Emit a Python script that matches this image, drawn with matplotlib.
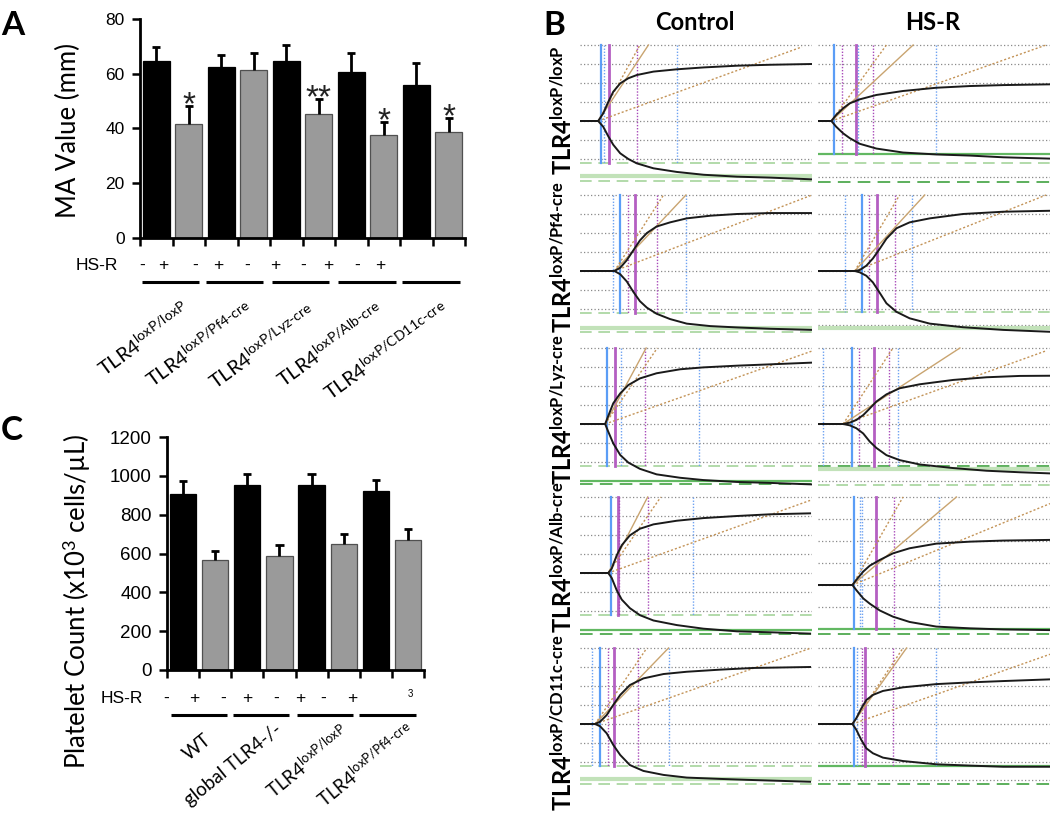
import matplotlib
matplotlib.use("Agg")
import matplotlib.pyplot as plt
from matplotlib.lines import Line2D

plt.rcParams['font.family'] = ['Lato', 'DejaVu Sans']
plt.rcParams['mathtext.fontset'] = 'custom'
plt.rcParams['mathtext.rm'] = 'Lato'
plt.rcParams['mathtext.it'] = 'Lato:italic'
plt.rcParams['mathtext.bf'] = 'Lato:bold'

# ---------------- Panel A data: MA value (mm) ----------------
a_groups = ["TLR4$^{\\mathrm{loxP/loxP}}$", "TLR4$^{\\mathrm{loxP/Pf4\u2010cre}}$",
            "TLR4$^{\\mathrm{loxP/Lyz\u2010cre}}$", "TLR4$^{\\mathrm{loxP/Alb\u2010cre}}$",
            "TLR4$^{\\mathrm{loxP/CD11c\u2010cre}}$"]
a_values = [64.5, 41.8, 62.4, 61.5, 64.5, 45.3, 60.8, 37.8, 55.9, 38.7]
a_errors = [5.2, 6.6, 4.6, 6.2, 5.9, 5.4, 6.7, 4.5, 7.9, 5.0]
a_stars = ["", "*", "", "", "", "**", "", "*", "", "*"]
a_hsr = ["-", "+", "-", "+", "-", "+", "-", "+", "-", "+"]
a_yticks = [0, 20, 40, 60, 80]

# ---------------- Panel C data: platelet count ----------------
c_groups = ["WT", "global TLR4-/-", "TLR4$^{\\mathrm{loxP/loxP}}$", "TLR4$^{\\mathrm{loxP/Pf4\u2010cre}}$"]
c_values = [908, 567, 951, 585, 951, 651, 922, 670]
c_errors = [64, 47, 57, 60, 59, 48, 59, 55]
c_hsr = ["-", "+", "-", "+", "-", "+", "-", "+"]
c_yticks = [0, 200, 400, 600, 800, 1000, 1200]

# ---------------- Panel B data: TEG tracings (time min, half amplitude mm) ----------------
b_cols = ["Control", "HS-R"]
b_rows = ["TLR4$^{\\mathbf{loxP/loxP}}$", "TLR4$^{\\mathbf{loxP/Pf4\u2010cre}}$",
          "TLR4$^{\\mathbf{loxP/Lyz\u2010cre}}$", "TLR4$^{\\mathbf{loxP/Alb\u2010cre}}$",
          "TLR4$^{\\mathbf{loxP/CD11c\u2010cre}}$"]

c1_t = [0, 4.7, 6.0, 7.3, 8.6, 10.4, 12.5, 14.7, 19.0, 25.0, 32.0, 40.6, 49.2, 60.0]
c1_up = [0, 0, 4.0, 10.0, 15.4, 19.8, 22.5, 24.2, 26.0, 27.2, 28.2, 29.1, 29.6, 30.0]
c1_lo = [0, 0, -3.0, -8.0, -12.5, -17.0, -20.0, -22.3, -24.9, -26.8, -28.3, -29.3, -29.8, -30.7]
c1_v = [(5.35, 'B'), (6.3, 'b'), (7.6, 'M'), (14.7, 'm'), (25.2, 'b')]
c1_vbot = -22.3
c1_tan = [(17.7, 40, '-'), (15.5, 40, ':'), (57.4, 39, ':')]
c1_h = [(40, 'g'), (30, 'g'), (20, 'g'), (10, 'g'), (0, 'g'), (-10, 'g'), (-20, 'g'),
        (-22.3, 'L'), (-28.8, 'W'), (-31.8, 'L')]

h1_t = [0, 3.45, 4.7, 6.5, 8.2, 10.8, 15.1, 22.0, 30.6, 39.3, 47.9, 60.0]
h1_up = [0, 0, 3.2, 6.7, 9.3, 11.4, 13.7, 15.8, 17.5, 18.4, 18.9, 19.3]
h1_lo = [0, 0, -3.0, -6.5, -9.0, -12.0, -14.5, -16.6, -17.6, -18.2, -19.1, -19.8]
h1_v = [(4.05, 'B'), (6.2, 'm'), (9.75, 'M'), (10.4, 'b'), (14.1, 'm'), (30.6, 'b')]
h1_vbot = -17.5
h1_tan = [(24.6, 40, '-'), (17.7, 40, ':'), (59.0, 40, ':')]
h1_h = [(40, 'g'), (30, 'g'), (20, 'g'), (10, 'g'), (0, 'g'), (-10, 'g'),
        (-17.5, 'S'), (-22.3, 'L'), (-29.6, 'g'), (-32.0, 'D')]

c2_t = [0, 8.9, 10.4, 12.1, 13.8, 15.5, 17.3, 19.8, 23.3, 27.6, 33.7, 40.6, 49.2, 60.0]
c2_up = [0, 0, 1.7, 5.7, 10.9, 16.1, 20.0, 23.4, 25.6, 27.7, 29.1, 30.0, 30.5, 30.5]
c2_lo = [0, 0, -1.7, -5.5, -11.0, -15.9, -19.3, -22.5, -25.3, -27.7, -29.0, -29.7, -30.4, -31.0]
c2_v = [(8.5, 'b'), (10.4, 'B'), (12.4, 'm'), (14.2, 'M'), (19.8, 'm'), (27.4, 'b')]
c2_vbot = -22.3
c2_tan = [(27.4, 40, '-'), (21.6, 40, ':'), (60.0, 40, ':')]
c2_h = [(40, 'g'), (30, 'g'), (20, 'g'), (10, 'g'), (0, 'g'), (-10, 'g'), (-20, 'g'),
        (-22.3, 'L'), (-30.0, 'W'), (-31.9, 'L')]

h2_t = [0, 9.5, 10.8, 12.5, 14.2, 16.0, 17.7, 20.3, 23.7, 28.9, 37.5, 47.9, 60.0]
h2_up = [0, 0, 0.5, 2.8, 6.6, 11.8, 17.0, 22.5, 25.6, 27.7, 30.0, 31.2, 31.7]
h2_lo = [0, 0, -0.7, -2.5, -6.0, -11.6, -17.0, -21.5, -24.9, -27.7, -29.6, -31.0, -32.0]
h2_v = [(7.0, 'b'), (11.4, 'B'), (13.2, 'm'), (15.2, 'M'), (19.9, 'm'), (24.4, 'b')]
h2_vbot = -21.5
h2_tan = [(27.6, 40, '-'), (21.1, 40, ':'), (59.0, 40, ':')]
h2_h = [(40, 'g'), (30, 'g'), (20, 'g'), (10, 'g'), (0, 'g'), (-10, 'g'), (-20, 'g'),
        (-21.5, 'L'), (-28.6, 'g'), (-30.2, 'W')]

c3_t = [0, 6.5, 7.3, 8.6, 10.4, 12.5, 15.5, 19.8, 25.9, 31.9, 40.6, 49.2, 60.0]
c3_up = [0, 0, 4.2, 10.9, 16.1, 20.5, 24.0, 26.7, 28.8, 29.8, 30.7, 31.4, 32.3]
c3_lo = [0, 0, -4.0, -10.2, -16.3, -20.3, -23.6, -26.5, -28.3, -29.5, -30.5, -31.0, -31.8]
c3_v = [(6.9, 'B'), (9.1, 'M'), (10.5, 'b'), (16.9, 'm'), (30.9, 'b')]
c3_vbot = -22.1
c3_tan = [(17.1, 40, '-'), (20.0, 40, ':'), (60.0, 38.4, ':')]
c3_h = [(40, 'g'), (30, 'g'), (20, 'g'), (10, 'g'), (0, 'g'), (-10, 'g'), (-20, 'g'),
        (-22.1, 'L'), (-30.0, 'S'), (-31.8, 'D')]

h3_t = [0, 6.5, 8.2, 9.9, 11.7, 13.4, 15.1, 17.7, 21.1, 26.3, 35.0, 43.6, 52.2, 60.0]
h3_up = [0, 0, 0.7, 2.1, 4.7, 8.2, 11.8, 15.6, 18.8, 20.9, 23.2, 24.6, 25.3, 25.4]
h3_lo = [0, 0, -0.7, -2.2, -5.0, -9.3, -12.6, -16.4, -19.0, -21.3, -23.2, -24.6, -25.4, -26.0]
h3_v = [(1.3, 'b'), (8.8, 'B'), (10.6, 'm'), (14.5, 'M'), (18.4, 'm'), (20.8, 'b')]
h3_vbot = -22.0
h3_tan = [(36.7, 40, '-'), (19.4, 40, ':'), (59.1, 38.6, ':')]
h3_h = [(40, 'g'), (30, 'g'), (20, 'g'), (10, 'g'), (0, 'g'), (-10, 'g'), (-20, 'g'),
        (-22.0, 'D'), (-23.9, 'W'), (-29.8, 'g'), (-32.0, 'L')]

c4_t = [0, 7.3, 8.2, 9.5, 10.8, 12.9, 15.5, 19.0, 25.0, 31.9, 40.6, 49.2, 59.5]
c4_up = [0, 0, 2.3, 9.3, 14.6, 19.8, 23.3, 25.6, 27.5, 28.9, 30.0, 30.9, 31.4]
c4_lo = [0, 0, -2.6, -9.1, -14.0, -18.5, -22.2, -25.0, -27.4, -29.3, -30.7, -31.2, -31.9]
c4_v = [(7.9, 'B'), (9.7, 'M'), (10.0, 'm'), (17.5, 'm'), (29.3, 'b')]
c4_vbot = -22.3
c4_tan = [(17.5, 40, '-'), (20.9, 40, ':'), (59.5, 38.2, ':')]
c4_h = [(40, 'g'), (30, 'g'), (20, 'g'), (10, 'g'), (0, 'g'), (-10, 'g'), (-20, 'g'),
        (-22.3, 'L'), (-29.8, 'S'), (-31.9, 'D')]

h4_t = [0, 8.9, 9.9, 11.7, 13.4, 16.0, 19.4, 23.7, 30.6, 39.3, 47.9, 60.0]
h4_up = [0, 0, 2.3, 6.1, 8.8, 11.4, 14.4, 16.7, 18.8, 19.7, 20.2, 20.5]
h4_lo = [0, 0, -2.3, -6.1, -8.5, -11.6, -14.4, -16.8, -18.9, -19.7, -20.2, -20.5]
h4_v = [(9.3, 'B'), (10.8, 'b'), (11.4, 'b'), (14.9, 'M'), (19.6, 'm'), (31.2, 'b')]
h4_vbot = -20.0
h4_tan = [(35.8, 40, '-'), (22.0, 40, ':'), (60.0, 37.0, ':')]
h4_h = [(40, 'g'), (30, 'g'), (20, 'g'), (10, 'g'), (0, 'g'), (-10, 'g'),
        (-20.0, 'S'), (-22.4, 'D')]

c5_t = [0, 3.9, 5.2, 6.9, 8.6, 10.4, 12.9, 16.4, 21.6, 27.6, 36.2, 44.9, 59.5]
c5_up = [0, 0, 1.2, 4.7, 10.0, 15.3, 20.5, 24.0, 26.3, 27.5, 28.6, 29.5, 30.0]
c5_lo = [0, 0, -1.2, -4.9, -11.0, -16.3, -21.6, -24.7, -26.8, -28.2, -28.9, -29.5, -30.4]
c5_v = [(3.0, 'b'), (5.2, 'B'), (7.3, 'm'), (8.9, 'M'), (14.9, 'm'), (23.0, 'b')]
c5_vbot = -21.9
c5_tan = [(22.9, 40, '-'), (17.3, 40, ':'), (59.5, 39.8, ':')]
c5_h = [(40, 'g'), (30, 'g'), (20, 'g'), (10, 'g'), (0, 'g'), (-10, 'g'), (-20, 'g'),
        (-21.9, 'L'), (-28.9, 'W'), (-31.7, 'L')]

h5_t = [0, 8.9, 9.9, 11.2, 12.5, 14.2, 16.8, 22.0, 30.6, 39.3, 47.9, 60.0]
h5_up = [0, 0, 3.0, 8.2, 12.6, 15.3, 17.4, 19.3, 21.0, 21.9, 22.6, 23.5]
h5_lo = [0, 0, -3.0, -8.4, -12.8, -15.4, -17.7, -19.5, -21.2, -21.9, -22.5, -22.5]
h5_v = [(9.2, 'B'), (10.1, 'b'), (11.4, 'm'), (12.1, 'M'), (19.4, 'm'), (30.6, 'b')]
h5_vbot = -21.9
h5_tan = [(22.9, 40, '-'), (22.0, 40, ':'), (60.0, 36.7, ':')]
h5_h = [(40, 'g'), (30, 'g'), (20, 'g'), (10, 'g'), (0, 'g'), (-10, 'g'), (-20, 'g'),
        (-21.9, 'S'), (-29.5, 'g'), (-31.7, 'D')]

# ---------------- layout ----------------
W, H, DPI = 1050, 814, 100
fig = plt.figure(figsize=(W / DPI, H / DPI), dpi=DPI)
fig.patch.set_facecolor('white')


def fx(x):
    return x / W


def fy(y):
    return 1 - y / H


def px_axes(x0, y0, x1, y1):
    return fig.add_axes([x0 / W, 1 - y1 / H, (x1 - x0) / W, (y1 - y0) / H])


def ftext(x, y, s, **kw):
    return fig.text(fx(x), fy(y), s, **kw)


def fline(x0, x1, y, lw=2.2):
    fig.add_artist(Line2D([fx(x0), fx(x1)], [fy(y), fy(y)], transform=fig.transFigure,
                          color='black', lw=lw, solid_capstyle='butt'))


TICKFONT = dict(family='Liberation Sans')
GRAY = '#9a9a9a'


def bar_panel(ax, values, errors, yticks, ylim, tick_fs):
    n = len(values)
    xs = list(range(n))
    cols = ['black' if i % 2 == 0 else GRAY for i in xs]
    edges = ['black' if i % 2 == 0 else '#505050' for i in xs]
    ax.bar(xs, values, width=0.82, color=cols, edgecolor=edges, linewidth=0.9, zorder=2)
    tops = [v + e for v, e in zip(values, errors)]
    ax.vlines(xs, values, tops, color='black', lw=2.0, zorder=3)
    ax.hlines(tops, [x - 0.13 for x in xs], [x + 0.13 for x in xs], color='black', lw=2.0, zorder=3)
    ax.set_xlim(-0.5, n - 0.5)
    ax.set_ylim(*ylim)
    ax.set_yticks(yticks)
    ax.set_yticklabels([str(t) for t in yticks], fontsize=tick_fs, **TICKFONT)
    ax.set_xticks([i - 0.5 for i in range(n + 1)])
    ax.set_xticklabels([])
    for s in ['top', 'right']:
        ax.spines[s].set_visible(False)
    for s in ['left', 'bottom']:
        ax.spines[s].set_linewidth(2.0)
    ax.tick_params(axis='both', direction='out', length=6, width=1.8, pad=5)
    ax.set_facecolor('white')
    return tops


# ---------------- Panel A ----------------
axA = px_axes(140, 19, 465, 238)
topsA = bar_panel(axA, a_values, a_errors, a_yticks, (0, 80), 12.5)
for i, (s, t) in enumerate(zip(a_stars, topsA)):
    if s:
        axA.annotate(s, (i, t), xytext=(0, -6), textcoords='offset points', ha='center',
                     va='baseline', fontsize=24, family='Liberation Sans', color='#222222',
                     annotation_clip=False)
ftext(68, 130, "MA Value (mm)", rotation=90, ha='center', va='center', fontsize=18.5)
ftext(1, 35, "A", fontsize=24, fontweight='bold', ha='left', va='baseline')
ftext(118, 270, "HS-R", ha='right', va='baseline', fontsize=12.5, **TICKFONT)
a_sign_x = [142, 163, 195, 218, 247, 275, 303, 328, 357, 380]
for s, x in zip(a_hsr, a_sign_x):
    ftext(x, 270, s, ha='center', va='baseline', fontsize=12.5, **TICKFONT)
for x0, x1 in [(142, 199), (206, 263), (272, 329), (338, 396), (402, 460)]:
    fline(x0, x1, 282)
a_label_end = [(182, 299), (245, 299), (308, 301), (375, 299), (441, 299)]
for g, (x, y) in zip(a_groups, a_label_end):
    ftext(x, y, g, rotation=36, rotation_mode='anchor', ha='right', va='top', fontsize=14.5)

# ---------------- Panel C ----------------
axC = px_axes(167, 437, 424, 670)
bar_panel(axC, c_values, c_errors, c_yticks, (0, 1200), 13.5)
ftext(77, 601, "Platelet Count (x10$^{3}$ cells/\u00b5L)", rotation=90, ha='center', va='center',
      fontsize=18.5)
ftext(1, 440, "C", fontsize=24, fontweight='bold', ha='left', va='baseline')
ftext(143, 703, "HS-R", ha='right', va='baseline', fontsize=12.5, **TICKFONT)
c_sign_x = [166, 194, 223, 247, 276, 300, 323, 352]
for s, x in zip(c_hsr, c_sign_x):
    ftext(x, 703, s, ha='center', va='baseline', fontsize=12.5, **TICKFONT)
ftext(410, 697, "3", ha='center', va='baseline', fontsize=7, **TICKFONT)
for x0, x1 in [(171, 227), (233, 289), (297, 353), (359, 416)]:
    fline(x0, x1, 715)
c_label_end = [(203, 731), (274, 721), (341, 722), (405, 719)]
for g, (x, y) in zip(c_groups, c_label_end):
    ftext(x, y, g, rotation=39, rotation_mode='anchor', ha='right', va='top', fontsize=13.5)

# ---------------- Panel B ----------------
ftext(543, 35, "B", fontsize=24, fontweight='bold', ha='left', va='baseline')
ftext(695, 30, b_cols[0], fontsize=17, fontweight='bold', ha='center', va='baseline')
ftext(933, 30, b_cols[1], fontsize=17, fontweight='bold', ha='center', va='baseline')
row_label_y = [110, 257, 409, 557, 723]
for lab, y in zip(b_rows, row_label_y):
    ftext(563, y, lab, rotation=90, ha='center', va='center', fontsize=17, fontweight='bold')

VSTYLE = {
    'B': dict(color='#5b9df6', lw=1.6, ls='-'),
    'b': dict(color='#6fa3f2', lw=1.0, ls=(0, (1, 1.2))),
    'M': dict(color='#b45fc2', lw=2.0, ls='-'),
    'm': dict(color='#a84ab9', lw=1.0, ls=(0, (1, 1.2))),
}
HSTYLE = {
    'g': dict(color='#8a8a8a', lw=0.9, ls=(0, (1, 1.8))),
    'L': dict(color='#a6d49c', lw=1.2, ls=(0, (7, 4))),
    'W': dict(color='#c2e2b9', lw=3.0, ls='-'),
    'S': dict(color='#62b862', lw=1.6, ls='-'),
    'D': dict(color='#4fa94f', lw=1.3, ls=(0, (7, 4))),
}
TSTYLE = {'-': dict(color='#c9a470', lw=1.0, ls='-'),
          ':': dict(color='#c39357', lw=1.0, ls=(0, (1.5, 1.5)))}

cells = [
    (0, 0, c1_t, c1_up, c1_lo, c1_v, c1_vbot, c1_tan, c1_h),
    (1, 0, h1_t, h1_up, h1_lo, h1_v, h1_vbot, h1_tan, h1_h),
    (0, 1, c2_t, c2_up, c2_lo, c2_v, c2_vbot, c2_tan, c2_h),
    (1, 1, h2_t, h2_up, h2_lo, h2_v, h2_vbot, h2_tan, h2_h),
    (0, 2, c3_t, c3_up, c3_lo, c3_v, c3_vbot, c3_tan, c3_h),
    (1, 2, h3_t, h3_up, h3_lo, h3_v, h3_vbot, h3_tan, h3_h),
    (0, 3, c4_t, c4_up, c4_lo, c4_v, c4_vbot, c4_tan, c4_h),
    (1, 3, h4_t, h4_up, h4_lo, h4_v, h4_vbot, h4_tan, h4_h),
    (0, 4, c5_t, c5_up, c5_lo, c5_v, c5_vbot, c5_tan, c5_h),
    (1, 4, h5_t, h5_up, h5_lo, h5_v, h5_vbot, h5_tan, h5_h),
]
col_x = [(580, 812), (818, 1050)]
row_base = [[121, 271, 424, 573, 724], [121, 271, 424, 585, 724]]
row_scale = [[1.9, 1.9, 1.9, 1.9, 1.9], [1.9, 1.9, 1.9, 2.2, 1.9]]

for col, row, t, up, lo, vl, vbot, tan, hl in cells:
    base = row_base[col][row]
    sc = row_scale[col][row]
    top_px = base - 40 * sc - 3
    bot_px = base + 66
    x0, x1 = col_x[col]
    ax = px_axes(x0, top_px, x1, bot_px)
    ax.set_xlim(0, 60)
    ax.set_ylim(-(bot_px - base) / sc, (base - top_px) / sc)
    ax.axis('off')
    for y, k in hl:
        ax.axhline(y, **HSTYLE[k], zorder=1)
    for tv, k in vl:
        ax.plot([tv, tv], [40, vbot], **VSTYLE[k], zorder=2)
    ts = t[1]
    for te, ye, k in tan:
        ax.plot([ts, te], [0, ye], **TSTYLE[k], zorder=2)
    ax.plot(t, up, color='#1a1a1a', lw=1.4, zorder=4, solid_joinstyle='round')
    ax.plot(t, lo, color='#1a1a1a', lw=1.4, zorder=4, solid_joinstyle='round')

fig.savefig("out.png", dpi=DPI, facecolor='white')
